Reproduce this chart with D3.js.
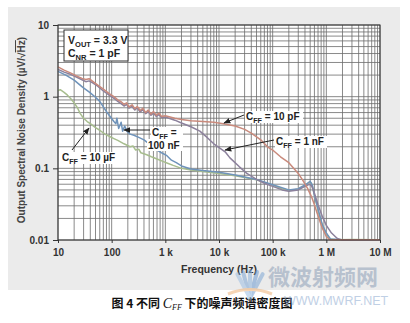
<!DOCTYPE html>
<html>
<head>
<meta charset="utf-8">
<script src="https://cdn.jsdelivr.net/npm/d3@7"></script>
<style>
  body { margin: 0; background: #fff; }
  svg { display: block; font-family: "Liberation Sans", Arial, sans-serif; }
</style>
</head>
<body>
<svg id="chart" width="410" height="323"></svg>
<script>
// frequency (Hz) / noise density (uV/rtHz)
var cff10p = [[10,2.6],[13,2.35],[17,2.15],[22,1.95],[28,1.8],[33,1.74],[38,1.78],[45,1.62],[55,1.45],[70,1.27],[90,1.1],[110,1.0],[130,0.9],[150,0.85],[170,0.78],[190,0.82],[210,0.72],[240,0.77],[270,0.68],[300,0.73],[340,0.64],[380,0.69],[430,0.6],[480,0.65],[540,0.57],[600,0.62],[680,0.55],[760,0.59],[850,0.53],[1000,0.54],[1500,0.5],[2000,0.48],[3000,0.46],[5000,0.45],[8000,0.44],[12000,0.42],[20000,0.39],[30000,0.35],[40000,0.31],[60000,0.25],[80000,0.2],[100000,0.18],[140000,0.145],[200000,0.12],[300000,0.085],[360000,0.069],[450000,0.052],[530000,0.04],[600000,0.031],[670000,0.024],[830000,0.015],[1000000,0.0112],[1160000,0.0101],[1500000,0.0101],[3000000,0.0101],[10000000,0.0101]];

var cff1n = [[10,2.4],[13,2.2],[17,2.05],[22,1.88],[28,1.72],[33,1.62],[38,1.66],[45,1.55],[55,1.4],[70,1.2],[90,1.05],[110,0.95],[130,0.86],[150,0.8],[170,0.74],[190,0.78],[210,0.69],[240,0.73],[270,0.65],[300,0.7],[340,0.61],[380,0.66],[430,0.58],[480,0.62],[540,0.55],[600,0.59],[680,0.53],[760,0.56],[850,0.51],[1000,0.52],[1500,0.47],[2000,0.43],[3000,0.38],[4400,0.33],[6000,0.27],[8000,0.22],[13000,0.17],[16000,0.14],[24000,0.105],[33000,0.085],[50000,0.07],[70000,0.062],[100000,0.056],[150000,0.05],[200000,0.048],[300000,0.05],[400000,0.056],[480000,0.06],[530000,0.057],[600000,0.045],[700000,0.031],[850000,0.021],[1000000,0.016],[1250000,0.0125],[1600000,0.0105],[2000000,0.0099],[5000000,0.0101],[10000000,0.01]];

var cff100n = [[10,2.25],[14,2.0],[20,1.7],[29,1.35],[39,1.15],[50,0.98],[60,0.86],[70,0.72],[81,0.61],[95,0.52],[110,0.45],[120,0.42],[125,0.5],[135,0.36],[150,0.44],[160,0.33],[175,0.39],[192,0.33],[220,0.3],[260,0.29],[320,0.27],[400,0.25],[500,0.22],[600,0.2],[700,0.18],[850,0.165],[1070,0.15],[1300,0.13],[1600,0.12],[2000,0.108],[3000,0.098],[5000,0.093],[10000,0.088],[20000,0.081],[50000,0.07],[100000,0.059],[200000,0.05],[300000,0.052],[420000,0.06],[500000,0.066],[550000,0.058],[600000,0.042],[700000,0.027],[850000,0.016],[1000000,0.0125],[1200000,0.0103],[2000000,0.0101],[10000000,0.0101]];

var cff10u = [[10,1.22],[11,1.25],[13,1.15],[15,1.05],[17,0.95],[20,0.82],[23,0.7],[26,0.58],[30,0.5],[35,0.45],[40,0.42],[50,0.37],[60,0.34],[75,0.3],[90,0.28],[110,0.26],[130,0.245],[170,0.22],[220,0.2],[250,0.205],[280,0.18],[320,0.185],[350,0.165],[450,0.155],[550,0.145],[700,0.135],[900,0.125],[1100,0.118],[1400,0.11],[2000,0.1],[3000,0.095],[5000,0.09],[10000,0.085],[20000,0.079],[50000,0.069],[100000,0.058],[150000,0.052],[200000,0.049],[300000,0.051],[400000,0.057],[480000,0.064],[520000,0.063],[560000,0.053],[620000,0.038],[700000,0.026],[800000,0.018],[950000,0.013],[1150000,0.0103],[1500000,0.0101],[3000000,0.0102],[10000000,0.0101]];

var xTickValues = [10, 100, 1e3, 1e4, 1e5, 1e6, 1e7];
var xTickLabels = ["10", "100", "1 k", "10 k", "100 k", "1 M", "10 M"];
var yTickValues = [0.01, 0.1, 1, 10];
var yTickLabels = ["0.01", "0.1", "1", "10"];

var svg = d3.select("#chart");

// grey panel behind the plot
svg.append("rect")
    .attr("x", 8).attr("y", 7)
    .attr("width", 392).attr("height", 283)
    .attr("fill", "#ebebeb");

var x = d3.scaleLog().domain([10, 1e7]).range([58, 380]);
var y = d3.scaleLog().domain([0.01, 10]).range([240, 25]);

svg.append("rect")
    .attr("x", 58).attr("y", 25)
    .attr("width", 322).attr("height", 215)
    .attr("fill", "#fff");

// dense log grid
var grid = svg.append("g").attr("stroke", "#6c6c6c").attr("stroke-width", 0.8);
grid.selectAll(".vx")
    .data(x.ticks())
    .enter().append("line")
    .attr("x1", d => x(d)).attr("x2", d => x(d))
    .attr("y1", 25).attr("y2", 240);
grid.selectAll(".hy")
    .data(y.ticks())
    .enter().append("line")
    .attr("x1", 58).attr("x2", 380)
    .attr("y1", d => y(d)).attr("y2", d => y(d));

var line = d3.line()
    .x(d => x(d[0]))
    .y(d => y(d[1]));

var series = [
    { data: cff10u, color: "#a7bd8e" },
    { data: cff100n, color: "#6f93ba" },
    { data: cff1n, color: "#8c819c" },
    { data: cff10p, color: "#c98a7c" }
];

svg.append("g").selectAll("path")
    .data(series)
    .enter().append("path")
    .attr("d", d => line(d.data))
    .attr("fill", "none")
    .attr("stroke", d => d.color)
    .attr("stroke-width", 1.5)
    .attr("stroke-linejoin", "round");

// plot frame
svg.append("rect")
    .attr("x", 58).attr("y", 25)
    .attr("width", 322).attr("height", 215)
    .attr("fill", "none")
    .attr("stroke", "#333")
    .attr("stroke-width", 1);

var xAxis = svg.append("g")
    .attr("transform", "translate(0,240)")
    .call(d3.axisBottom(x).tickValues(xTickValues)
        .tickFormat((d, i) => xTickLabels[i]).tickSize(3).tickPadding(6));
var yAxis = svg.append("g")
    .attr("transform", "translate(58,0)")
    .call(d3.axisLeft(y).tickValues(yTickValues)
        .tickFormat((d, i) => yTickLabels[i]).tickSize(5).tickPadding(4));

[xAxis, yAxis].forEach(function(a) {
    a.select(".domain").remove();
    a.selectAll("line").attr("stroke", "#333");
    a.selectAll("text")
        .attr("fill", "#333")
        .style("font-size", "10px")
        .style("font-weight", "bold")
        .style("font-family", "Liberation Sans, Arial, sans-serif");
});

svg.append("text")
    .attr("x", 219).attr("y", 273)
    .attr("text-anchor", "middle")
    .attr("fill", "#333")
    .style("font-size", "10.5px").style("font-weight", "bold")
    .text("Frequency (Hz)");

var yt = svg.append("text")
    .attr("transform", "translate(25,130) rotate(-90)")
    .attr("text-anchor", "middle")
    .attr("fill", "#444")
    .style("font-size", "10px").style("font-weight", "bold");
yt.append("tspan").text("Output Spectral Noise Density (\u00b5V/\u221a");
yt.append("tspan").attr("text-decoration", "overline").text("Hz");
yt.append("tspan").text(")");

// conditions box
svg.append("rect")
    .attr("x", 64).attr("y", 30)
    .attr("width", 64).attr("height", 31)
    .attr("fill", "#fff").attr("stroke", "#333");

function subText(g, xp, yp, main, sub, rest, size) {
    var t = g.append("text")
        .attr("x", xp).attr("y", yp)
        .attr("fill", "#222")
        .style("font-size", size + "px").style("font-weight", "bold");
    t.append("tspan").text(main);
    t.append("tspan").attr("dy", 2.5).style("font-size", (size * 0.72) + "px").text(sub);
    t.append("tspan").attr("dy", -2.5).text(rest);
    return t;
}

subText(svg, 68, 44, "V", "OUT", " = 3.3 V", 10.5);
subText(svg, 68, 57, "C", "NR", " = 1 pF", 10.5);

// curve labels with arrows
svg.append("defs").append("marker")
    .attr("id", "ah").attr("viewBox", "0 0 10 10")
    .attr("refX", 9).attr("refY", 5)
    .attr("markerWidth", 7).attr("markerHeight", 7)
    .attr("orient", "auto-start-reverse")
    .append("path").attr("d", "M0,1 L10,5 L0,9 Z").attr("fill", "#222");

var labels = [
    { tx: 246, ty: 120, rest: " = 10 pF", ax: [244, 115, 224, 123], w: 58 },
    { tx: 276, ty: 145, rest: " = 1 nF", ax: [274, 140, 225, 150], w: 52 },
    { tx: 152, ty: 136, rest: " =", ax: [150, 130, 124, 130], w: 32 },
    { tx: 62, ty: 161, rest: " = 10 \u00b5F", ax: [72, 150, 89, 128], w: 58 }
];

labels.forEach(function(l) {
    svg.append("rect")
        .attr("x", l.tx - 1).attr("y", l.ty - 9)
        .attr("width", l.w).attr("height", 12)
        .attr("fill", "#fff");
    svg.append("line")
        .attr("x1", l.ax[0]).attr("y1", l.ax[1])
        .attr("x2", l.ax[2]).attr("y2", l.ax[3])
        .attr("stroke", "#222").attr("stroke-width", 1)
        .attr("marker-end", "url(#ah)");
    subText(svg, l.tx, l.ty, "C", "FF", l.rest, 10);
});
svg.append("rect")
    .attr("x", 147).attr("y", 139).attr("width", 36).attr("height", 12)
    .attr("fill", "#fff");
svg.append("text")
    .attr("x", 148).attr("y", 149)
    .attr("fill", "#222")
    .style("font-size", "10px").style("font-weight", "bold")
    .text("100 nF");

// caption
var cap = svg.append("text")
    .attr("x", 202).attr("y", 308)
    .attr("text-anchor", "middle")
    .attr("fill", "#111")
    .style("font-family", "Noto Sans CJK SC").style("font-size", "12px").style("font-weight", "bold");
cap.append("tspan").text("图 4 不同 ");
cap.append("tspan")
    .style("font-family", "Liberation Serif").style("font-style", "italic").style("font-weight", "normal")
    .style("font-size", "14px").text("C");
cap.append("tspan")
    .attr("dy", 2)
    .style("font-family", "Liberation Serif").style("font-style", "italic").style("font-weight", "normal")
    .style("font-size", "8px").text("FF");
cap.append("tspan").attr("dy", -2).text(" 下的噪声频谱密度图");

// watermark
var wm = svg.append("g").attr("opacity", 0.55);
[[-62, "#7fa7d4"], [-75, "#6d9bd0"], [-90, "#8fb6de"], [-105, "#7fa7d4"], [-118, "#9dbfe2"]].forEach(function(r) {
    var a = r[0] * Math.PI / 180;
    wm.append("line")
        .attr("x1", 250).attr("y1", 298)
        .attr("x2", 250 + 27 * Math.cos(a)).attr("y2", 298 + 27 * Math.sin(a))
        .attr("stroke", r[1]).attr("stroke-width", 4).attr("stroke-linecap", "round");
});
wm.append("path")
    .attr("d", "M228,294 Q250,285 272,294")
    .attr("fill", "none").attr("stroke", "#f0b47a").attr("stroke-width", 3);
wm.append("text")
    .attr("x", 268).attr("y", 285)
    .attr("fill", "#8ea0b8")
    .style("font-family", "Noto Sans CJK SC").style("font-size", "22px").style("font-weight", "bold")
    .text("微波射频网");
wm.append("text")
    .attr("x", 284).attr("y", 305)
    .attr("fill", "#8eaad0")
    .style("font-size", "12.5px")
    .text("WWW.MWRF.NET");
</script>
</body>
</html>
